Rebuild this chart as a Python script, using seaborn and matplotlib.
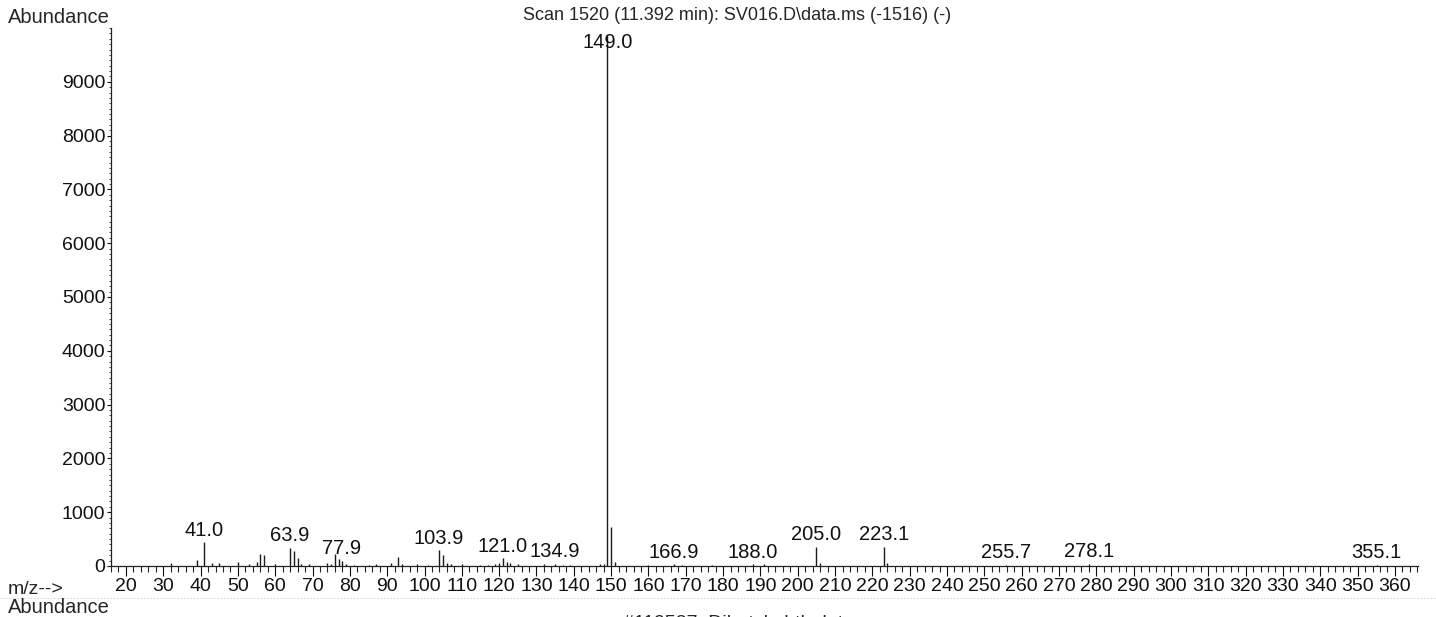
import numpy as np
import pandas as pd
import matplotlib
matplotlib.use("Agg")
import matplotlib.pyplot as plt
import seaborn as sns
from matplotlib.lines import Line2D

# m/z and abundance
mz = [32.0, 39.0, 41.0, 43.0, 45.0, 50.0, 53.0, 55.0, 56.0, 57.0, 60.0,
      63.9, 65.0, 66.0, 67.0, 69.0, 74.0, 75.0, 76.0, 77.0, 77.9, 79.0,
      81.0, 85.0, 87.0, 91.0, 93.0, 94.0, 98.0, 101.0, 103.9, 104.9,
      106.0, 107.0, 110.0, 115.0, 117.0, 119.0, 120.0, 121.0, 122.0,
      123.0, 125.0, 132.0, 134.9, 137.0, 139.0, 147.0, 148.0, 149.0,
      150.0, 151.0, 160.0, 166.9, 169.0, 177.0, 188.0, 191.0, 205.0,
      206.0, 223.1, 224.0, 255.7, 278.1, 355.1]
abundance = [50, 120, 440, 50, 50, 80, 30, 70, 230, 200, 30,
             330, 270, 140, 40, 30, 60, 40, 230, 130, 90, 40,
             20, 20, 30, 60, 170, 40, 30, 20, 290, 200,
             60, 30, 30, 20, 20, 40, 50, 140, 70,
             60, 30, 30, 40, 20, 20, 30, 40, 9850,
             730, 80, 20, 30, 20, 20, 30, 30, 350,
             60, 360, 60, 20, 40, 15]

# peaks that carry a printed label
labelled = [41.0, 63.9, 77.9, 103.9, 121.0, 134.9, 149.0, 166.9, 188.0,
            205.0, 223.1, 255.7, 278.1, 355.1]

y_ticks = [0, 1000, 2000, 3000, 4000, 5000, 6000, 7000, 8000, 9000]
x_ticks = list(range(20, 361, 10))

title = r"Scan 1520 (11.392 min): SV016.D\data.ms (-1516) (-)"

df = pd.DataFrame({"mz": mz, "abundance": abundance})

sns.set_theme(style="ticks")
plt.rcParams["font.family"] = ["Liberation Sans", "DejaVu Sans"]

fig = plt.figure(figsize=(14.36, 6.17), dpi=100)
ax = fig.add_axes([0.0773, 0.0827, 0.9102, 0.8719])

ax.vlines(df["mz"], 0, df["abundance"], color="#1a1a1a", lw=1.0)

for _, row in df[df["mz"].isin(labelled)].iterrows():
    ytxt = min(row["abundance"], 9500)
    ax.annotate(f"{row['mz']:.1f}", (row["mz"], ytxt), xytext=(0, 2),
                textcoords="offset points", ha="center", va="bottom",
                fontsize=14.5, color="#111111")

ax.set_xlim(16.0, 366.2)
ax.set_ylim(0, 10000)
ax.set_xticks(x_ticks)
ax.set_xticks(np.arange(16, 367, 2), minor=True)
ax.set_yticks(y_ticks)
ax.set_yticks(np.arange(0, 10001, 100), minor=True)
ax.tick_params(axis="both", labelsize=14, colors="#111111", width=0.8)
ax.tick_params(axis="x", which="major", length=7, pad=2)
ax.tick_params(axis="x", which="minor", length=4, width=0.8)
ax.tick_params(axis="y", which="major", length=3, pad=1)
ax.tick_params(axis="y", which="minor", length=1.5, width=0.6)

sns.despine(ax=ax)
for s in ["left", "bottom"]:
    ax.spines[s].set_linewidth(0.9)
    ax.spines[s].set_color("#222222")

fig.text(0.0056, 0.972, "Abundance", fontsize=14.5, ha="left", va="center")
fig.text(0.513, 0.975, title, fontsize=13, ha="center", va="center")
fig.text(0.0056, 0.045, "m/z-->", fontsize=14, ha="left", va="center")
fig.text(0.0056, 0.016, "Abundance", fontsize=14.5, ha="left", va="center")
fig.text(0.514, -0.01, "#119537: Dibutyl phthalate", fontsize=14,
         ha="center", va="center")
fig.add_artist(Line2D([0.0, 1.0], [0.03, 0.03], transform=fig.transFigure,
                      color="#cfcfcf", lw=0.6, ls=(0, (2, 2))))

fig.savefig("out.png", dpi=100)
